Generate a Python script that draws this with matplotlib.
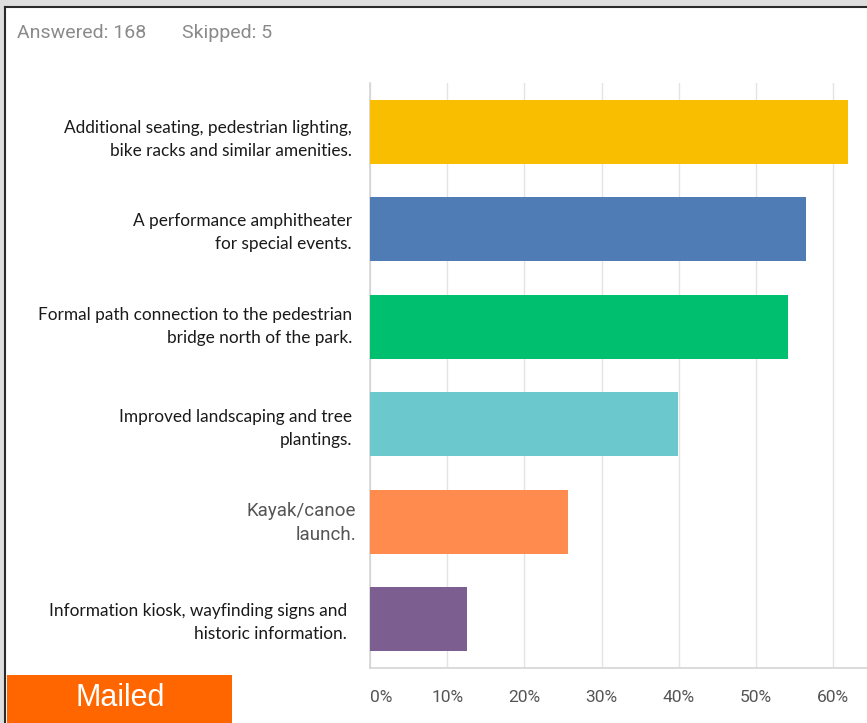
import matplotlib
matplotlib.use("Agg")
import matplotlib.pyplot as plt
from matplotlib.patches import Rectangle
from matplotlib.lines import Line2D

# ---- data ----
categories = [
    "Additional seating, pedestrian lighting,\nbike racks and similar amenities.",
    "A performance amphitheater\nfor special events.",
    "Formal path connection to the pedestrian\nbridge north of the park.",
    "Improved landscaping and tree\nplantings.",
    "Kayak/canoe\nlaunch.",
    "Information kiosk, wayfinding signs and\nhistoric information.",
]
values = [61.9, 56.5, 54.2, 39.9, 25.6, 12.5]
xticks = [0, 10, 20, 30, 40, 50, 60]
xtick_labels = ["0%", "10%", "20%", "30%", "40%", "50%", "60%"]
header_answered = "Answered: 168"
header_skipped = "Skipped: 5"
badge_text = "Mailed"

# ---- styles ----
colors = ["#F9BE00", "#507CB6", "#00BF6F", "#6BC8CD", "#FF8B4F", "#7D5E90"]
W, H = 867, 723
fig = plt.figure(figsize=(W / 100, H / 100), dpi=100)
fig.patch.set_facecolor("white")

def fx(px):
    return px / W

def fy(py):
    return 1 - py / H

# background frame (gray band top/left + dark border)
fig.patches.append(Rectangle((0, fy(7)), 1, 7 / H, transform=fig.transFigure,
                             facecolor="#dedede", edgecolor="none", zorder=0))
fig.patches.append(Rectangle((0, 0), 5 / W, 1, transform=fig.transFigure,
                             facecolor="#dedede", edgecolor="none", zorder=0))
fig.lines.append(Line2D([fx(5), 1], [fy(7), fy(7)], transform=fig.transFigure,
                        color="#2a2a2a", lw=1.5))
fig.lines.append(Line2D([fx(5), fx(5)], [0, fy(7)], transform=fig.transFigure,
                        color="#2a2a2a", lw=1.5))

# axes
ax_left, ax_right, ax_top, ax_bottom = 370, 867, 83, 668
ax = fig.add_axes([fx(ax_left), fy(ax_bottom), (ax_right - ax_left) / W,
                   (ax_bottom - ax_top) / H])
px_per_unit = 77.2 / 10
ax.set_xlim(0, (ax_right - ax_left) / px_per_unit)
ax.set_ylim(len(categories) - 0.5, -0.5)

ypos = list(range(len(categories)))
ax.barh(ypos, values, height=0.66, color=colors, zorder=3)

ax.set_xticks(xticks)
ax.set_xticklabels(xtick_labels)
ax.grid(axis="x", color="#e4e4e4", lw=1, zorder=0)
ax.set_yticks([])
for s in ["top", "right"]:
    ax.spines[s].set_visible(False)
for s in ["left", "bottom"]:
    ax.spines[s].set_color("#d4d4d4")
    ax.spines[s].set_linewidth(1.2)
ax.tick_params(axis="x", length=0, pad=16, labelsize=12.5, labelcolor="#555555")
for lbl in ax.get_xticklabels():
    lbl.set_fontfamily("Roboto")
ax.get_xticklabels()[0].set_horizontalalignment("left")

# category labels
label_right = [352, 352, 352, 352, 356, 347]
label_dy = [8, 3, 0, 4, 1, 3]
for i, (cat, r, dy) in enumerate(zip(categories, label_right, label_dy)):
    xa = (r - ax_left) / (ax_right - ax_left)
    yd = i + dy / 97.2
    if i == 4:
        ax.text(xa, yd, cat, transform=ax.get_yaxis_transform(), ha="right",
                va="center", fontsize=13.5, color="#555555", family="Roboto",
                linespacing=1.45)
    else:
        ax.text(xa, yd, cat, transform=ax.get_yaxis_transform(), ha="right",
                va="center", fontsize=12.4, color="#1a1a1a", family="Lato",
                linespacing=1.56)

# header
fig.text(fx(17), fy(33), header_answered, ha="left", va="center", fontsize=14,
         color="#8a8a8a", family="Roboto")
fig.text(fx(182), fy(33), header_skipped, ha="left", va="center", fontsize=14,
         color="#8a8a8a", family="Roboto")

# badge
fig.patches.append(Rectangle((fx(7), 0), (232 - 7) / W, (H - 675) / H,
                             transform=fig.transFigure, facecolor="#FF6600",
                             edgecolor="none", zorder=5))
fig.text(fx(120), fy(698), badge_text, ha="center", va="center", fontsize=22,
         color="white", family="Liberation Sans", zorder=6)

fig.savefig("out.png", dpi=100)
